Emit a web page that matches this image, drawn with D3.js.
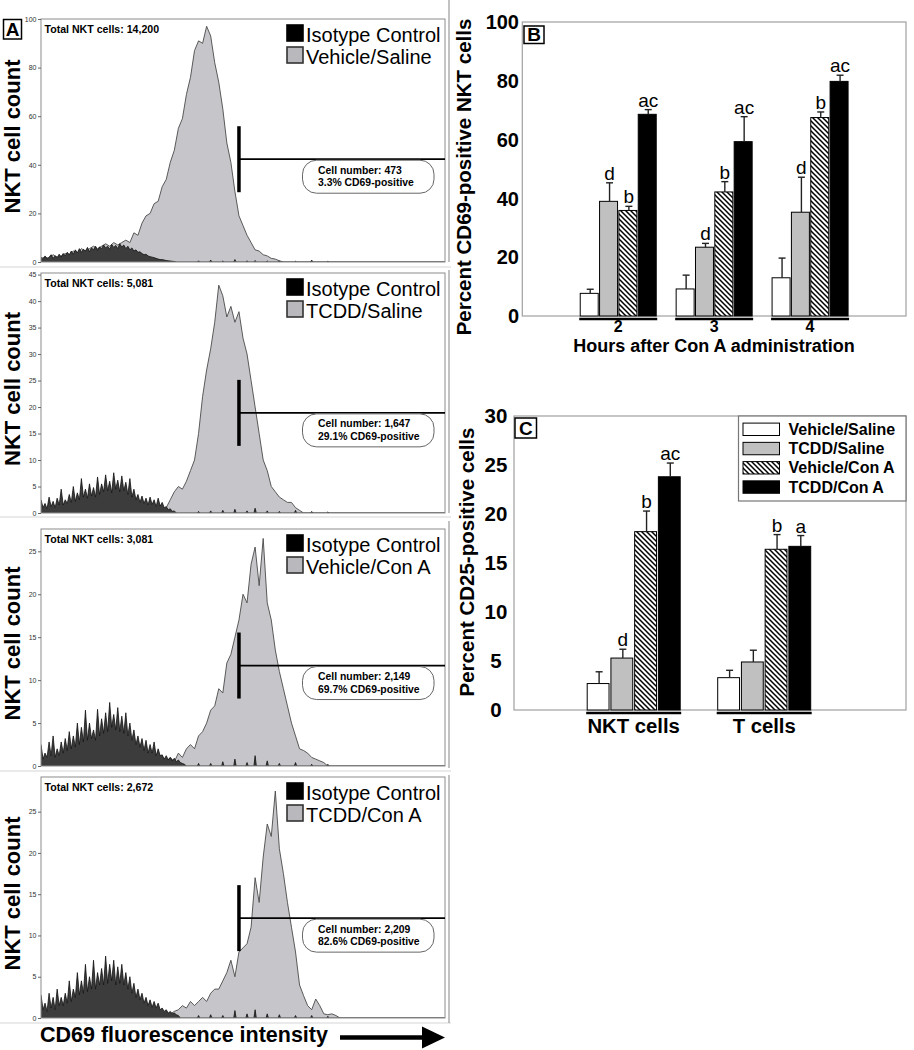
<!DOCTYPE html>
<html><head><meta charset="utf-8">
<script src="https://cdn.jsdelivr.net/npm/d3@7/dist/d3.min.js"></script>
<style>
body{margin:0;background:#fff}
svg{display:block}
text{font-family:"Liberation Sans",Arial,Helvetica,sans-serif}
</style>
</head><body>
<svg id="fig" width="914" height="1050"></svg>
<script>
// ---------------- DATA ----------------
// Panel A: flow cytometry histograms
const histTreatments = ["Vehicle/Saline", "TCDD/Saline", "Vehicle/Con A", "TCDD/Con A"];
const histTotals = ["14,200", "5,081", "3,081", "2,672"];
const histCellNumbers = ["473", "1,647", "2,149", "2,209"];
const histPercentPositive = ["3.3%", "29.1%", "69.7%", "82.6%"];
const histYMax = [100, 45.3, 27.6, 29.2];
const histTicks1 = [0, 20, 40, 60, 80, 100];
const histTicks2 = [0, 5, 10, 15, 20, 25, 30, 35, 40, 45];
const histTicks3 = [0, 5, 10, 15, 20, 25];
const histTicks4 = [0, 5, 10, 15, 20, 25];
const gateChannel = 98;
const gateLevel = [42.3, 18.9, 11.7, 12.1];
const channelMax = 200;
const isoStep = 1;    // isotype counts: one value per channel from channel 0
const treatStep = 2;  // treatment counts: one value every 2 channels from channel 0

const iso1 = [2,1,2.5,1.2,2,3,1.5,2.5,1.8,3.2, 2,3.5,2.5,4,3,4.5,3.2,5,3.8,5.5,
  4,5.2,4.5,6,4.2,5.8,5,6.5,4.8,6.2, 5.5,7,5.8,6.5,5.2,7.2,6,6.8,5.5,7.5,
  6.2,7,5.5,6.5,5,5.8,4.5,5,4,4.2, 3.5,3,3.2,2.5,2.2,2,1.8,1.5,1.2,1, 1,0.8,0.6,0.5,0.4,0.3,0.2,0];
const iso2 = [2.5,1,1.8,0.8,3,1.2,2.2,1,2.8,1.5, 4.5,1.5,2.5,1.8,3.5,2,5,2.2,3.8,2.5,
  6.5,3,4.5,2.8,5.5,3.2,4.8,3,6.8,3.5, 5.5,4,7.2,4.2,6,3.8,7.6,4.5,6.2,4,
  7,4.2,5.8,3.5,6.5,3,4.5,2.5,3.5,2, 3.2,1.8,2.8,1.5,3,1.6,2.5,1.2,2.8,1.3, 2,1,1.2,0.6,0.8,0.3,0.4,0];
const iso3 = [2.5,0.8,1.5,1,2.8,1.2,3.5,1,2,1.2, 2.8,1.5,3.2,1.8,4,2,3.5,2.2,5,2.5,
  4.5,2.8,6.5,3,5,3.2,4.2,3,6.6,3.5, 5.5,3.8,6.2,4,7.4,4.5,6,4.2,6.8,4,
  5.8,3.8,6.2,3.5,5,3,4.2,2.5,3.5,2.2, 3.2,1.8,3,1.5,2.5,1.5,2.8,1.2,2,1.2,
  1.3,0.8,1.2,0.7,1,0.6,0.9,0.5,0.7,0.4, 0.3,0.2,0];
const iso4 = [2.8,1,1.8,0.8,3,1.2,2.5,1,3.5,1.5, 2.5,1.5,3,1.8,4.5,2,3.5,2.5,5.5,2.8,
  4.5,3,6.5,3.2,5,3.5,7,3.5,5.5,4, 6,4,7.5,4.2,6.5,4.5,7,4,6.2,4.2,
  6.5,4,5.5,3.5,5,3,4.2,2.5,3.5,2.2, 3,1.8,2.5,1.5,2.2,1.3,2,1.2,1.8,1, 1.2,0.8,1,0.6,0.8,0.5,0.6,0.4,0.3,0];
// small isotype blips further right (channel, height per panel)
const isoBlipCh = [78, 84, 90, 96, 102, 106, 112, 118, 126, 134, 142];
const isoBlipH1 = [0.5, 0.8, 0.4, 1, 0.5, 0.6, 0.4, 0.5, 0.3, 0.8, 0.3];
const isoBlipH2 = [0.3, 0.4, 0.5, 0.7, 0.4, 0.9, 0.4, 0.3, 0.5, 0.3, 0.2];
const isoBlipH3 = [0.3, 0.3, 0.5, 0.8, 0.4, 1.2, 0.6, 0.3, 0.4, 0.2, 0.2];
const isoBlipH4 = [0.3, 0.4, 0.3, 0.9, 0.5, 1, 0.5, 0.4, 0.3, 0.3, 0.2];

const treat1 = [1.5,2,1.5,3,2,2.5,3.5,3,4.5,3.5,5.5,4.5,5.5,6.5,5.5,6.5,7.5,6.5,8,7,8,9,8,12,11,
  16,19,20,24,25,31,34,41,46,55,59,69,76,87,91,90,97,93,82,74,63,49,41,29,19,15,11,8,5,4.5,3,2.5,1.5,1.2,0.5,0];
const treat2 = [0.5,0.5,0.5,0.5,0.5,0.5,0.5,0.5,0.5,0.5,0.5,0.5,0.5,0.5,0.5,0.5,0.5,0.5,0.5,0.5,0.5,0.5,0.5,0.5,0.5,0.5,0.5,0.5,0.5,0.5,
  0.5,1,2.5,4,5,4.5,6,8,10,15,22,27,31,36,43,41,37,39,36,38,33,30,25,20,15,10,8,5,4,3,2.5,2,2,1,0.5,0];
const treat3 = [0.3,0.3,0.3,0.3,0.3,0.3,0.3,0.3,0.3,0.3,0.3,0.3,0.3,0.3,0.3,0.3,0.3,0.3,0.3,0.3,0.3,0.3,0.3,0.3,0.3,0.3,0.3,0.3,0.3,0.3,0.3,
  0.5,1,0.5,1.5,1,2,2.5,2,3.5,4,5,6.5,7,9,8.5,12,13,15,17,20,19,23.5,25.5,21,26.5,19,17,13.5,11,9,7,5,3.5,2,1.8,1.5,1,0.8,0.6,0.4,0];
const treat4 = [0.3,0.3,0.3,0.3,0.3,0.3,0.3,0.3,0.3,0.3,0.3,0.3,0.3,0.3,0.3,0.3,0.3,0.3,0.3,0.3,0.3,0.3,0.3,0.3,0.3,0.3,0.3,0.3,0.3,0.3,0.3,0.3,
  0.5,0.8,1,1.5,1.2,2,1.5,2,2.5,2,3,3.5,3.5,4.5,5.5,7,5,8,8.5,9,11,17,14,19.5,23.5,22,27.5,20.5,17.5,14,11,8,4,2.7,1.5,1,2.3,1.5,0.5,0.4,0.5,0.3,0];

// Panel B: % CD69+ NKT cells
const bHours = ["2", "3", "4"];
const bTicks = [0, 20, 40, 60, 80, 100];
const bVehicleSaline = [7.7, 9.2, 13.0];
const bVehicleSalineSE = [1.4, 4.7, 6.7];
const bTcddSaline = [39.0, 23.4, 35.3];
const bTcddSalineSE = [6.3, 1.3, 11.9];
const bVehicleConA = [35.9, 42.2, 67.5];
const bVehicleConASE = [1.4, 3.5, 1.9];
const bTcddConA = [68.6, 59.3, 79.8];
const bTcddConASE = [1.6, 8.5, 2.1];
const bVehicleSalineSig = ["", "", ""];
const bTcddSalineSig = ["d", "d", "d"];
const bVehicleConASig = ["b", "b", "b"];
const bTcddConASig = ["ac", "ac", "ac"];

// Panel C: % CD25+ cells
const cCells = ["NKT cells", "T cells"];
const cTicks = [0, 5, 10, 15, 20, 25, 30];
const cVehicleSaline = [2.7, 3.3];
const cVehicleSalineSE = [1.2, 0.75];
const cTcddSaline = [5.3, 4.9];
const cTcddSalineSE = [0.9, 1.2];
const cVehicleConA = [18.2, 16.4];
const cVehicleConASE = [2.1, 1.5];
const cTcddConA = [23.8, 16.7];
const cTcddConASE = [1.4, 1.1];
const cVehicleSalineSig = ["", ""];
const cTcddSalineSig = ["d", ""];
const cVehicleConASig = ["b", "b"];
const cTcddConASig = ["ac", "a"];

const seriesNames = ["Vehicle/Saline", "TCDD/Saline", "Vehicle/Con A", "TCDD/Con A"];

// ---------------- DRAWING ----------------
const svg = d3.select("#fig");
const defs = svg.append("defs");
const pat = defs.append("pattern").attr("id", "hatch").attr("patternUnits", "userSpaceOnUse")
  .attr("width", 5).attr("height", 5);
pat.append("rect").attr("width", 5).attr("height", 5).attr("fill", "#fff");
pat.append("path").attr("d", "M-1,-1L6,6M-1,4L1,6M4,-1L6,1").attr("stroke", "#000").attr("stroke-width", 1.5);

const seriesFill = ["#ffffff", "#c0c0c0", "url(#hatch)", "#000000"];
const BOLD_NUM = "'DejaVu Sans',Verdana,sans-serif";

// ----- Panel A -----
const histIso = [iso1, iso2, iso3, iso4];
const histBlips = [isoBlipH1, isoBlipH2, isoBlipH3, isoBlipH4];
const histTreat = [treat1, treat2, treat3, treat4];
const histTicks = [histTicks1, histTicks2, histTicks3, histTicks4];
const aLeft = 41, aRight = 445;
const aPanels = [{top: 19, bottom: 262}, {top: 273, bottom: 513}, {top: 529, bottom: 766}, {top: 777, bottom: 1018}];
const sepY = [267, 517, 771, 1023];

sepY.forEach(yy => svg.append("line").attr("x1", 0).attr("x2", 451).attr("y1", yy).attr("y2", yy)
  .attr("stroke", "#d6d6d6").attr("stroke-width", 1.2));
[[0, 262], [270, 513], [521, 768], [775, 1023]].forEach(s =>
  svg.append("line").attr("x1", 449).attr("x2", 449).attr("y1", s[0]).attr("y2", s[1])
    .attr("stroke", "#9a9a9a").attr("stroke-width", 1.2));

function toPoints(arr, step, blipCh, blipH) {
  const pts = arr.map((v, i) => [i * step, v]);
  const last = (arr.length - 1) * step;
  pts.push([last + step, 0]);
  if (blipCh) blipCh.forEach((c, k) => { pts.push([c - 0.6, 0], [c, blipH[k]], [c + 0.6, 0]); });
  pts.push([channelMax, 0]);
  return pts;
}

aPanels.forEach((p, i) => {
  const g = svg.append("g");
  const x = d3.scaleLinear().domain([0, channelMax]).range([aLeft, aRight]);
  const y = d3.scaleLinear().domain([0, histYMax[i]]).range([p.bottom, p.top]);

  const clipId = "clipA" + i;
  defs.append("clipPath").attr("id", clipId).append("rect")
    .attr("x", aLeft).attr("y", p.top).attr("width", aRight - aLeft).attr("height", p.bottom - p.top);

  const area = d3.area().x(d => x(d[0])).y0(y(0)).y1(d => y(d[1]));
  const line = d3.line().x(d => x(d[0])).y(d => y(d[1]));
  const pg = g.append("g").attr("clip-path", `url(#${clipId})`);
  const tp = toPoints(histTreat[i], treatStep);
  pg.append("path").attr("d", area(tp)).attr("fill", "#c6c6ca");
  pg.append("path").attr("d", line(tp)).attr("fill", "none").attr("stroke", "#4a4a4a").attr("stroke-width", 0.9);
  const ip = toPoints(histIso[i], isoStep, isoBlipCh, histBlips[i]);
  pg.append("path").attr("d", area(ip)).attr("fill", "#3c3c3c");
  pg.append("path").attr("d", line(ip)).attr("fill", "none").attr("stroke", "#111").attr("stroke-width", 0.8);

  g.append("rect").attr("x", aLeft).attr("y", p.top).attr("width", aRight - aLeft).attr("height", p.bottom - p.top)
    .attr("fill", "none").attr("stroke", "#8c8c8c").attr("stroke-width", 1);

  const ax = g.append("g").attr("transform", `translate(${aLeft},0)`)
    .call(d3.axisLeft(y).tickValues(histTicks[i]).tickSize(3).tickPadding(1.5));
  ax.select(".domain").remove();
  ax.selectAll("line").attr("stroke", "#666");
  ax.selectAll("text").attr("font-size", 7).attr("fill", "#333").attr("font-family", "'Liberation Sans',Arial,sans-serif");

  g.append("text").attr("x", 44.5).attr("y", p.top + 14).attr("font-size", 10.6).attr("font-weight", "bold")
    .text("Total NKT cells: " + histTotals[i]);

  const lg = [{label: "Isotype Control", fill: "#000"}, {label: histTreatments[i], fill: "#b9b9bd"}];
  lg.forEach((L, k) => {
    const base = p.top + 22.5 + k * 22;
    g.append("rect").attr("x", 287).attr("y", base - 16.5).attr("width", 16).attr("height", 16)
      .attr("fill", L.fill).attr("stroke", k === 0 ? "#000" : "#333").attr("stroke-width", 1.6);
    g.append("text").attr("x", 306).attr("y", base).attr("font-size", 20).text(L.label);
  });

  const gx = x(gateChannel), gy = y(gateLevel[i]);
  g.append("line").attr("x1", gx).attr("x2", gx).attr("y1", gy - 33).attr("y2", gy + 33)
    .attr("stroke", "#000").attr("stroke-width", 3.5);
  g.append("line").attr("x1", gx).attr("x2", x(channelMax)).attr("y1", gy).attr("y2", gy)
    .attr("stroke", "#000").attr("stroke-width", 1.8);
  g.append("rect").attr("x", 302.5).attr("y", gy + 1).attr("width", 131.5).attr("height", 33)
    .attr("rx", 14).attr("ry", 14).attr("fill", "#fff").attr("stroke", "#666").attr("stroke-width", 1);
  g.append("text").attr("x", 318).attr("y", gy + 14.5).attr("font-size", 10.4).attr("font-weight", "bold")
    .text("Cell number: " + histCellNumbers[i]);
  g.append("text").attr("x", 318).attr("y", gy + 27).attr("font-size", 10.4).attr("font-weight", "bold")
    .text(histPercentPositive[i] + " CD69-positive");

  const cy = (p.top + p.bottom) / 2 - 4;
  g.append("text").attr("transform", `translate(20,${cy}) rotate(-90)`).attr("text-anchor", "middle")
    .attr("font-size", 22).attr("font-weight", "bold").text("NKT cell count");
});

svg.append("rect").attr("x", 3.5).attr("y", 19.5).attr("width", 18).attr("height", 19.5)
  .attr("fill", "#fff").attr("stroke", "#000").attr("stroke-width", 1.5);
svg.append("text").attr("x", 12.5).attr("y", 36).attr("text-anchor", "middle").attr("font-size", 19)
  .attr("font-weight", "bold").text("A");

svg.append("text").attr("x", 40).attr("y", 1042).attr("font-size", 21.5).attr("font-weight", "bold")
  .text("CD69 fluorescence intensity");
svg.append("line").attr("x1", 340).attr("x2", 426).attr("y1", 1037.5).attr("y2", 1037.5)
  .attr("stroke", "#000").attr("stroke-width", 4.5);
svg.append("path").attr("d", "M422,1026.5L445,1037.5L422,1048.5Z").attr("fill", "#000");

// ----- grouped bar helper -----
function barPanel(cfg) {
  const g = svg.append("g");
  const y = d3.scaleLinear().domain(cfg.yDomain).range([cfg.bottom, cfg.top]);
  const x = cfg.x;
  const inner = d3.scaleBand().domain(seriesNames).range([-cfg.half, cfg.half]).paddingInner(cfg.padInner);
  const bw = inner.bandwidth();

  g.append("rect").attr("x", cfg.left).attr("y", cfg.top).attr("width", cfg.right - cfg.left)
    .attr("height", cfg.bottom - cfg.top).attr("fill", "none").attr("stroke", "#a0a0a0").attr("stroke-width", 1.2);

  cfg.series.forEach((s, k) => {
    cfg.cats.forEach((c, j) => {
      const bx = x(c) + inner(seriesNames[k]);
      const v = s.values[j], e = s.se[j];
      g.append("rect").attr("x", bx).attr("y", y(v)).attr("width", bw).attr("height", y(0) - y(v))
        .attr("fill", seriesFill[k]).attr("stroke", "#000").attr("stroke-width", 1);
      const cx = bx + bw / 2 + 1;
      g.append("line").attr("x1", cx).attr("x2", cx).attr("y1", y(v)).attr("y2", y(v + e))
        .attr("stroke", "#222").attr("stroke-width", 1.4);
      g.append("line").attr("x1", cx - 3.5).attr("x2", cx + 3.5).attr("y1", y(v + e)).attr("y2", y(v + e))
        .attr("stroke", "#222").attr("stroke-width", 1.4);
      if (s.sig[j]) {
        g.append("text").attr("x", cx).attr("y", y(v + e) - 3).attr("text-anchor", "middle")
          .attr("font-size", cfg.sigSize).text(s.sig[j]);
      }
    });
  });

  cfg.cats.forEach(c => {
    g.append("line").attr("x1", x(c) - cfg.half - 1).attr("x2", x(c) + cfg.half + 1)
      .attr("y1", cfg.bottom + 3).attr("y2", cfg.bottom + 3).attr("stroke", "#000").attr("stroke-width", 2.4);
  });

  cfg.ticks.forEach(t => {
    g.append("text").attr("x", cfg.tickX).attr("y", y(t)).attr("dy", "0.36em").attr("text-anchor", cfg.tickAnchor)
      .attr("font-family", BOLD_NUM).attr("font-weight", "bold").attr("font-size", cfg.tickSize).text(t);
  });

  g.append("text").attr("transform", `translate(${cfg.yLabelX},${cfg.yLabelY}) rotate(-90)`)
    .attr("text-anchor", "middle").attr("font-size", 20.5).attr("font-weight", "bold").text(cfg.yLabel);

  g.append("rect").attr("x", cfg.letterBox[0]).attr("y", cfg.letterBox[1]).attr("width", cfg.letterBox[2])
    .attr("height", cfg.letterBox[3]).attr("fill", "#fff").attr("stroke", "#000").attr("stroke-width", 1.5);
  g.append("text").attr("x", cfg.letterBox[0] + cfg.letterBox[2] / 2).attr("y", cfg.letterBox[1] + cfg.letterBox[3] - 3)
    .attr("text-anchor", "middle").attr("font-size", 19).attr("font-weight", "bold").text(cfg.letter);
  return {g, x, y};
}

// ----- Panel B -----
const bLeft = 522.3, bRight = 906;
const bx = d3.scalePoint().domain(bHours).range([bLeft, bRight]).padding(1);
const B = barPanel({
  left: bLeft, right: bRight, top: 22, bottom: 316, yDomain: [0, 100], x: bx, cats: bHours,
  half: 38, padInner: 0.07, sigSize: 19, ticks: bTicks, tickX: 519, tickAnchor: "end", tickSize: 20,
  yLabel: "Percent CD69-positive NKT cells", yLabelX: 471, yLabelY: 177,
  letter: "B", letterBox: [524, 26, 20, 17.5],
  series: [
    {values: bVehicleSaline, se: bVehicleSalineSE, sig: bVehicleSalineSig},
    {values: bTcddSaline, se: bTcddSalineSE, sig: bTcddSalineSig},
    {values: bVehicleConA, se: bVehicleConASE, sig: bVehicleConASig},
    {values: bTcddConA, se: bTcddConASE, sig: bTcddConASig}
  ]
});
bHours.forEach(h => {
  B.g.append("text").attr("x", bx(h)).attr("y", 331.5).attr("text-anchor", "middle")
    .attr("font-weight", "bold").attr("font-size", 16).text(h);
});
B.g.append("text").attr("x", 714).attr("y", 351.5).attr("text-anchor", "middle").attr("font-size", 18)
  .attr("font-weight", "bold").text("Hours after Con A administration");

// ----- Panel C -----
const cLeft = 514, cRight = 906;
const cx = d3.scalePoint().domain(cCells).range([cLeft + 119.7, cLeft + 250.2]);
const C = barPanel({
  left: cLeft, right: cRight, top: 416, bottom: 710, yDomain: [0, 30], x: cx, cats: cCells,
  half: 46.5, padInner: 0.08, sigSize: 19, ticks: cTicks, tickX: 496, tickAnchor: "middle", tickSize: 20.5,
  yLabel: "Percent CD25-positive cells", yLabelX: 474, yLabelY: 562,
  letter: "C", letterBox: [515, 418, 21.5, 20],
  series: [
    {values: cVehicleSaline, se: cVehicleSalineSE, sig: cVehicleSalineSig},
    {values: cTcddSaline, se: cTcddSalineSE, sig: cTcddSalineSig},
    {values: cVehicleConA, se: cVehicleConASE, sig: cVehicleConASig},
    {values: cTcddConA, se: cTcddConASE, sig: cTcddConASig}
  ]
});
cCells.forEach(c => {
  C.g.append("text").attr("x", cx(c)).attr("y", 732.5).attr("text-anchor", "middle").attr("font-size", 20.3)
    .attr("font-weight", "bold").text(c);
});
const lgC = C.g.append("g");
lgC.append("rect").attr("x", 738.5).attr("y", 416).attr("width", 167.5).attr("height", 85)
  .attr("fill", "#fff").attr("stroke", "#777").attr("stroke-width", 1.2);
seriesNames.forEach((s, k) => {
  const cyy = 429.3 + k * 19.25;
  lgC.append("rect").attr("x", 743).attr("y", cyy - 6.2).attr("width", 36.5).attr("height", 12.4)
    .attr("fill", seriesFill[k]).attr("stroke", "#000").attr("stroke-width", 1);
  lgC.append("text").attr("x", 788.5).attr("y", cyy + 5.6).attr("font-size", 16).attr("font-weight", "bold").text(s);
});
</script>
</body></html>
